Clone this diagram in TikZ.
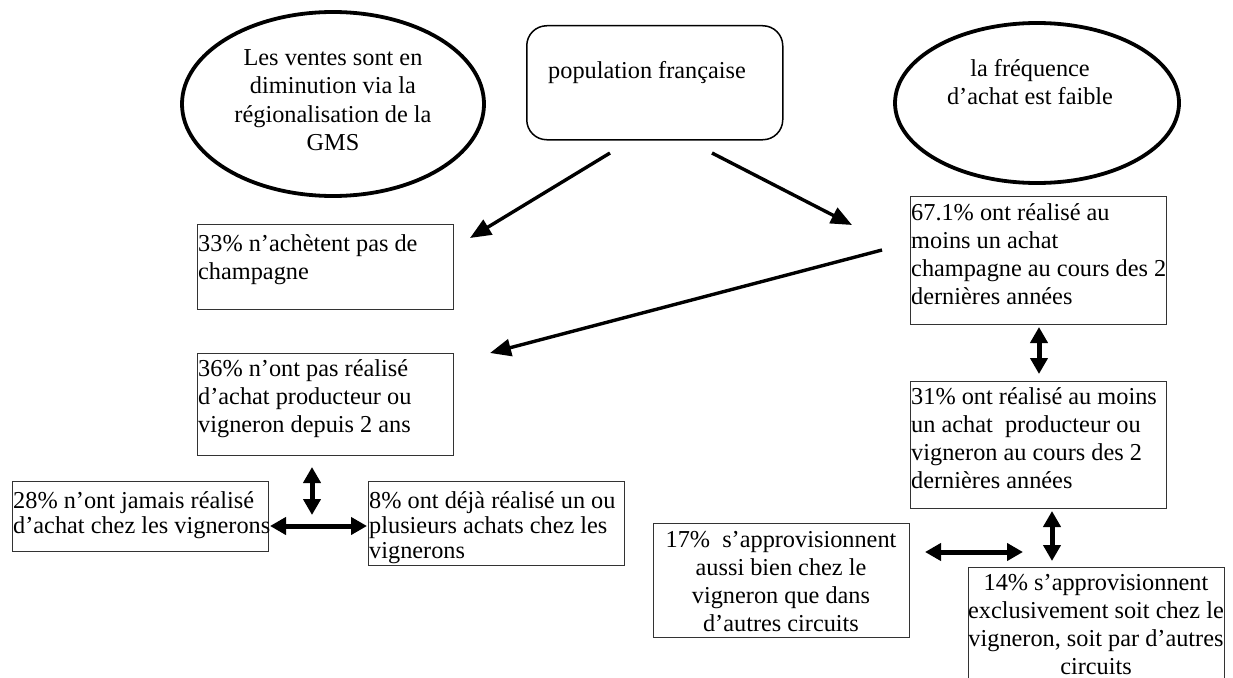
\documentclass[tikz,border=0pt]{standalone}
\usepackage{fontspec}
\setmainfont{Liberation Serif}
\usetikzlibrary{arrows.meta,shapes.geometric}
\begin{document}
\begin{tikzpicture}[x=1pt,y=-1pt,
  boxn/.style={draw=black!80, line width=1.1pt, rectangle, minimum width=256pt, anchor=north west, inner sep=0pt},
  ell/.style={draw, ellipse, line width=3.8pt, inner sep=0pt},
  txl/.style={anchor=base west, inner sep=0pt, font=\fontsize{24.3}{28}\selectfont},
  txc/.style={anchor=base, inner sep=0pt, font=\fontsize{24.3}{28}\selectfont},
  tight/.style={font=\fontsize{24.3}{25}\selectfont},
  arr/.style={line width=3.4pt, -{Triangle[length=21pt,width=17pt]}},
  dbl/.style={line width=5pt, {Triangle[length=16pt,width=17pt]}-{Triangle[length=16pt,width=17pt]}}
]
\useasboundingbox (0,0) rectangle (1233,677);

% top shapes
\node[ell, minimum width=302pt, minimum height=184pt] (eleft) at (333,104) {};
\node[txc, font=\fontsize{24.3}{28.5}\selectfont] (teleft) at (333,65) {\parbox[t]{300pt}{\centering Les ventes sont en\\diminution via la\\régionalisation de la\\GMS}};

\node[draw, line width=1.5pt, rounded corners=20pt, minimum width=256pt, minimum height=114pt, anchor=north west, inner sep=0pt] (pop) at (526,25) {};
\node[txl] (tpop) at (548,78) {population française};

\node[ell, minimum width=284pt, minimum height=160pt] (eright) at (1037,103) {};
\node[txc] (teright) at (1030,77) {\parbox[t]{260pt}{\centering la fréquence\\d’achat est faible}};

% boxes
\node[boxn, minimum height=85pt] (b33) at (197,224) {};
\node[txl] (t33) at (198,251) {\parbox[t]{300pt}{\raggedright 33\% n’achètent pas de\\champagne}};

\node[boxn, minimum height=102pt] (b36) at (197,353) {};
\node[txl] (t36) at (198,376) {\parbox[t]{300pt}{\raggedright 36\% n’ont pas réalisé\\d’achat producteur ou\\vigneron depuis 2 ans}};

\node[boxn, minimum height=70pt] (b28) at (12,481) {};
\node[txl, tight] (t28) at (13,508) {\parbox[t]{300pt}{\raggedright 28\% n’ont jamais réalisé\\d’achat chez les vignerons}};

\node[boxn, minimum height=84pt] (b8) at (368,481) {};
\node[txl, tight] (t8) at (369,508) {\parbox[t]{300pt}{\raggedright 8\% ont déjà réalisé un ou\\plusieurs achats chez les\\vignerons}};

\node[boxn, minimum height=128pt] (b67) at (910,196) {};
\node[txl] (t67) at (911,220) {\parbox[t]{300pt}{\raggedright 67.1\% ont réalisé au\\moins un achat\\champagne au cours des 2\\dernières années}};

\node[boxn, minimum height=127pt] (b31) at (910,381) {};
\node[txl] (t31) at (911,404) {\parbox[t]{300pt}{\raggedright 31\% ont réalisé au moins\\un achat\ \ producteur ou\\vigneron au cours des 2\\dernières années}};

\node[boxn, minimum height=114pt] (b17) at (653,523) {};
\node[txc] (t17) at (781,547) {\parbox[t]{300pt}{\centering 17\%\ \ s’approvisionnent\\aussi bien chez le\\vigneron que dans\\d’autres circuits}};

\node[boxn, minimum height=120pt] (b14) at (968,567) {};
\node[txc] (t14) at (1096,590) {\parbox[t]{300pt}{\centering 14\% s’approvisionnent\\exclusivement soit chez le\\vigneron, soit par d’autres\\circuits}};

% arrow end points
\coordinate (a1s) at (610,153);
\coordinate (a1e) at (470,238);
\coordinate (a2s) at (712,153);
\coordinate (a2e) at (852,225);
\coordinate (a3s) at (882,250);
\coordinate (a3e) at (490,353);
\coordinate (v1a) at (312,467);
\coordinate (v1b) at (312,515);
\coordinate (h1a) at (270,526);
\coordinate (h1b) at (367,526);
\coordinate (v2a) at (1039,327);
\coordinate (v2b) at (1039,374);
\coordinate (v3a) at (1052,511);
\coordinate (v3b) at (1052,561);
\coordinate (h2a) at (925,552);
\coordinate (h2b) at (1023,552);

\draw[arr] (a1s) -- (a1e);
\draw[arr] (a2s) -- (a2e);
\draw[arr] (a3s) -- (a3e);
\draw[dbl] (v1a) -- (v1b);
\draw[dbl] (h1a) -- (h1b);
\draw[dbl] (v2a) -- (v2b);
\draw[dbl] (v3a) -- (v3b);
\draw[dbl] (h2a) -- (h2b);
\end{tikzpicture}
\end{document}
